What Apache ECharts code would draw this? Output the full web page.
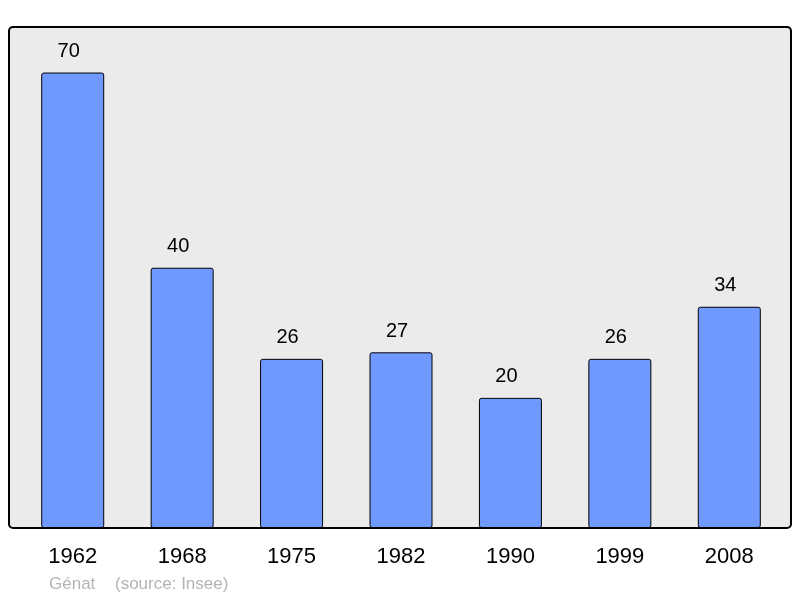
<!DOCTYPE html>
<html>
<head>
<meta charset="utf-8">
<script src="https://cdn.jsdelivr.net/npm/echarts@6/dist/echarts.min.js"></script>
<style>
  html, body { margin: 0; padding: 0; background: #fff; }
  #chart { width: 800px; height: 598px; }
</style>
</head>
<body>
<div id="chart"></div>
<script>
// données
const years = ["1962", "1968", "1975", "1982", "1990", "1999", "2008"];
const population = [70, 40, 26, 27, 20, 26, 34];
const footerName = "Génat";
const footerSource = "(source: Insee)";

const chart = echarts.init(document.getElementById("chart"));

const frame = { x: 9, y: 27, width: 782, height: 501 };
const font = "Liberation Sans, Arial, sans-serif";

chart.setOption({
  animation: false,
  textStyle: { fontFamily: font },
  grid: { left: 18, right: 16, top: 27, bottom: 70 },
  graphic: [
    {
      type: "rect",
      z: -10,
      shape: { x: frame.x, y: frame.y, width: frame.width, height: frame.height, r: 4 },
      style: { fill: "#ebebeb", stroke: null }
    },
    {
      type: "rect",
      z: 100,
      silent: true,
      shape: { x: frame.x, y: frame.y, width: frame.width, height: frame.height, r: 4 },
      style: { fill: null, stroke: "#000", lineWidth: 2 }
    },
    {
      type: "text",
      left: 49,
      top: 576,
      style: { text: footerName, fill: "#b4b4b4", font: "17px " + font }
    },
    {
      type: "text",
      left: 115,
      top: 576,
      style: { text: footerSource, fill: "#b4b4b4", font: "17px " + font }
    }
  ],
  xAxis: {
    type: "category",
    data: years,
    axisLine: { show: false },
    axisTick: { show: false },
    axisLabel: { color: "#000", fontSize: 22, margin: 18 }
  },
  yAxis: {
    type: "value",
    min: 0,
    max: 77,
    show: false,
    splitLine: { show: false }
  },
  series: [
    {
      type: "bar",
      data: population,
      barWidth: 63,
      itemStyle: {
        color: "#7099ff",
        borderColor: "#000",
        borderWidth: 1,
        borderRadius: 2
      },
      label: {
        show: true,
        position: "top",
        distance: 11,
        offset: [-4, 0],
        color: "#000",
        fontSize: 20
      }
    }
  ]
});
</script>
</body>
</html>
